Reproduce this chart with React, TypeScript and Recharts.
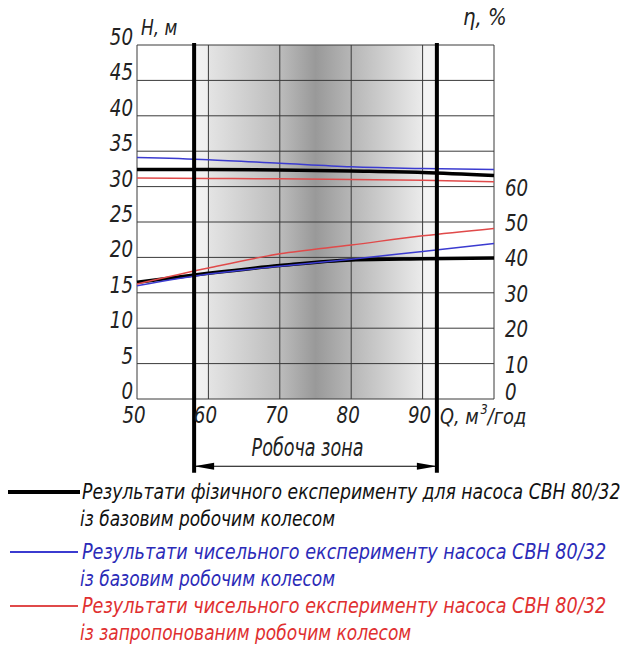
import React from "react";
import { LineChart, Line, XAxis, YAxis, CartesianGrid, ReferenceLine } from "recharts";

// Q, m3/h
const flow = [50, 60, 70, 80, 90, 100];
// head H, m (left axis)
const headPhysical = [32.4, 32.4, 32.35, 32.2, 32.0, 31.55];
const headNumBase = [34.1, 33.8, 33.3, 32.8, 32.55, 32.4];
const headNumNew = [31.2, 31.15, 31.1, 31.0, 30.9, 30.7];
// efficiency η, % (right axis)
const effPhysical = [33.0, 35.5, 37.7, 39.3, 39.6, 39.8];
const effNumBase = [32.0, 35.3, 37.5, 39.5, 41.7, 43.9];
const effNumNew = [32.5, 37.0, 41.0, 43.5, 46.1, 48.2];

const flowTicks = [50, 60, 70, 80, 90, 100];
const headTicks = [0, 5, 10, 15, 20, 25, 30, 35, 40, 45, 50];
const effTicks = [0, 10, 20, 30, 40, 50, 60];
const workZone = [58, 92];

const FONT = "'Liberation Sans Narrow', 'DejaVu Sans Condensed', 'DejaVu Sans', sans-serif";
const INK = "#222";

const series = [
  { key: "hPhys", axis: "h", values: headPhysical, color: "#000000", width: 3.5 },
  { key: "hBase", axis: "h", values: headNumBase, color: "#3b3bd0", width: 1.5 },
  { key: "hNew", axis: "h", values: headNumNew, color: "#e04a4a", width: 1.5 },
  { key: "ePhys", axis: "eta", values: effPhysical, color: "#000000", width: 3.5 },
  { key: "eBase", axis: "eta", values: effNumBase, color: "#3b3bd0", width: 1.5 },
  { key: "eNew", axis: "eta", values: effNumNew, color: "#e04a4a", width: 1.5 },
];

const legendItems = [
  {
    color: "#000000",
    width: 4,
    text: ["Результати фізичного експерименту для насоса СВН 80/32", "із базовим робочим колесом"],
    textColor: "#111",
    squeeze: 0.87,
  },
  {
    color: "#3b3bd0",
    width: 1.5,
    text: ["Результати чисельного експерименту насоса СВН 80/32", "із базовим робочим колесом"],
    textColor: "#2b2bb8",
    squeeze: 0.89,
  },
  {
    color: "#e04a4a",
    width: 1.5,
    text: ["Результати чисельного експерименту насоса СВН 80/32", "із запропонованим робочим колесом"],
    textColor: "#e03030",
    squeeze: 0.89,
  },
];

const data = flow.map((q, i) => {
  const row: Record<string, number> = { q };
  series.forEach((s) => (row[s.key] = s.values[i]));
  return row;
});

const off = (q: number) => `${((q - 50) / 50) * 100}%`;

// italic text squeezed horizontally to mimic the narrow drafting font
const SText = ({ x, y, sx = 0.85, size = 23, anchor = "start", children }: any) => (
  <text
    transform={`translate(${x},${y}) scale(${sx},1)`}
    x={0}
    y={0}
    textAnchor={anchor}
    fontFamily={FONT}
    fontStyle="italic"
    fontSize={size}
    fill={INK}
  >
    {children}
  </text>
);

const LeftTick = (props: any) => (
  <SText x={props.x} y={props.y} anchor="end" sx={0.88}>
    {props.payload.value}
  </SText>
);

const RightTick = (props: any) => (
  <SText x={props.x} y={props.y + (props.payload.value === 0 ? 1 : 9)} sx={0.88}>
    {props.payload.value}
  </SText>
);

const BottomTick = (props: any) =>
  props.payload.value === 100 ? null : (
    <SText x={props.x - 3} y={props.y + 24} anchor="middle" sx={0.88}>
      {props.payload.value}
    </SText>
  );

const ZoneArrow = (props: any) => {
  const { x1, x2, y1 } = props;
  const len = 20;
  const hw = 3.5;
  return (
    <g>
      <line x1={x1} y1={y1} x2={x2} y2={y1} stroke="#000" strokeWidth={1.2} />
      <polygon points={`${x1},${y1} ${x1 + len},${y1 - hw} ${x1 + len},${y1 + hw}`} fill="#000" />
      <polygon points={`${x2},${y1} ${x2 - len},${y1 - hw} ${x2 - len},${y1 + hw}`} fill="#000" />
      <SText x={(x1 + x2) / 2 - 8} y={y1 - 10} anchor="middle" size={25} sx={0.78}>
        Робоча зона
      </SText>
    </g>
  );
};

export default function App() {
  return (
    <div style={{ position: "absolute", left: 0, top: 0, width: 629, height: 646, background: "#fff", overflow: "hidden" }}>
      <svg width={0} height={0} style={{ position: "absolute" }}>
        <defs>
          <linearGradient id="workZoneShade" x1="0" y1="0" x2="1" y2="0">
            <stop offset={off(workZone[0])} stopColor="#ffffff" />
            <stop offset={off(workZone[0])} stopColor="#f3f3f3" />
            <stop offset={off(60)} stopColor="#efefef" />
            <stop offset={off(60)} stopColor="#e4e4e4" />
            <stop offset={off(70)} stopColor="#bcbcbc" />
            <stop offset={off(75)} stopColor="#999999" />
            <stop offset={off(80)} stopColor="#b6b6b6" />
            <stop offset={off(90)} stopColor="#ebebeb" />
            <stop offset={off(90)} stopColor="#f4f4f4" />
            <stop offset={off(workZone[1])} stopColor="#f4f4f4" />
            <stop offset={off(workZone[1])} stopColor="#ffffff" />
          </linearGradient>
        </defs>
      </svg>
      <LineChart width={629} height={480} data={data} margin={{ top: 45, right: 95, left: 97, bottom: 51 }}>
        <CartesianGrid stroke="#3a3a3a" strokeWidth={1} fill="url(#workZoneShade)" fillOpacity={1} yAxisId="h" />
        <XAxis
          dataKey="q"
          type="number"
          domain={[50, 100]}
          ticks={flowTicks}
          height={30}
          axisLine={false}
          tickLine={false}
          tickSize={0}
          tickMargin={0}
          tick={<BottomTick />}
          interval={0}
          label={{
            content: (p: any) => {
              const vb = p.viewBox;
              return (
                <text
                  transform={`translate(${vb.x + vb.width - 54},${vb.y + 25}) scale(0.9,1)`}
                  fontFamily={FONT}
                  fontStyle="italic"
                  fontSize={22}
                  fill={INK}
                >
                  Q, м
                  <tspan dy={-10} dx={2} fontSize={14}>3</tspan>
                  <tspan dy={10}>/год</tspan>
                </text>
              );
            },
          }}
        />
        <YAxis
          yAxisId="h"
          orientation="left"
          domain={[0, 50]}
          ticks={headTicks}
          width={40}
          axisLine={false}
          tickLine={false}
          tickSize={4}
          tickMargin={0}
          tick={<LeftTick />}
          interval={0}
          label={{
            content: (p: any) => {
              const vb = p.viewBox;
              return (
                <SText x={vb.x + vb.width + 4} y={vb.y - 10} size={21} sx={0.9}>
                  H, м
                </SText>
              );
            },
          }}
        />
        <YAxis
          yAxisId="eta"
          orientation="right"
          domain={[0, 100]}
          ticks={effTicks}
          width={40}
          axisLine={false}
          tickLine={false}
          tickSize={6}
          tickMargin={5}
          tick={<RightTick />}
          interval={0}
          label={{
            content: (p: any) => {
              const vb = p.viewBox;
              return (
                <SText x={vb.x - 31} y={vb.y - 20} size={23} sx={0.95}>
                  η, %
                </SText>
              );
            },
          }}
        />
        {series.map((s) => (
          <Line
            key={s.key}
            yAxisId={s.axis}
            dataKey={s.key}
            type="monotone"
            stroke={s.color}
            strokeWidth={s.width}
            dot={false}
            isAnimationActive={false}
          />
        ))}
        {workZone.map((q) => (
          <ReferenceLine
            key={q}
            yAxisId="h"
            segment={[
              { x: q, y: 50.3 },
              { x: q, y: -10.4 },
            ]}
            stroke="#000"
            strokeWidth={4}
            ifOverflow="visible"
          />
        ))}
        <ReferenceLine
          yAxisId="h"
          segment={[
            { x: workZone[0], y: -9.5 },
            { x: workZone[1], y: -9.5 },
          ]}
          ifOverflow="visible"
          shape={<ZoneArrow />}
        />
      </LineChart>
      <div style={{ position: "absolute", left: 0, top: 478, width: 629, fontFamily: FONT, fontStyle: "italic", fontSize: 22 }}>
        {legendItems.map((item, i) => (
          <div key={i} style={{ position: "relative", height: i === 0 ? 60 : 54 }}>
            <div
              style={{
                position: "absolute",
                left: i === 0 ? 8 : 10,
                top: 14 - item.width / 2,
                width: i === 0 ? 72 : 68,
                height: item.width,
                background: item.color,
              }}
            />
            {item.text.map((line, j) => (
              <div
                key={j}
                style={{
                  position: "absolute",
                  left: j === 0 ? 82 : 80,
                  top: j * 27,
                  lineHeight: "27px",
                  color: item.textColor,
                  whiteSpace: "nowrap",
                  transform: `scaleX(${j === 0 ? item.squeeze : 0.86})`,
                  transformOrigin: "0 0",
                }}
              >
                {line}
              </div>
            ))}
          </div>
        ))}
      </div>
    </div>
  );
}
